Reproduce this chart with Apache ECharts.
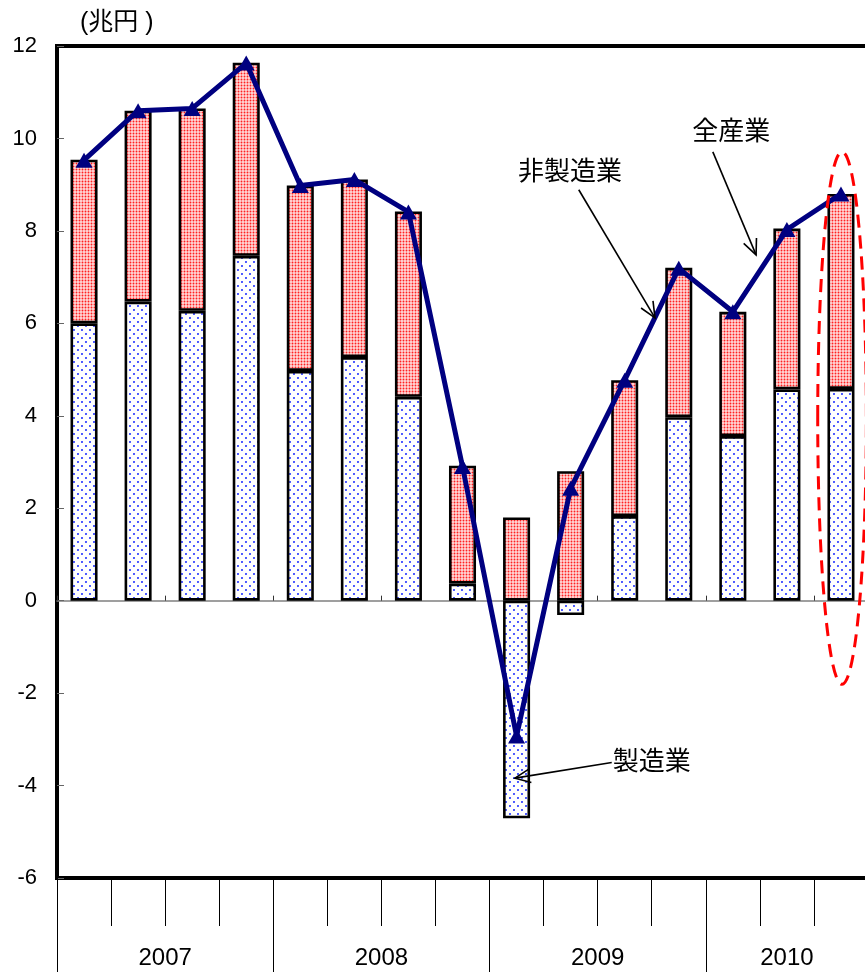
<!DOCTYPE html>
<html>
<head>
<meta charset="utf-8">
<script src="https://cdn.jsdelivr.net/npm/echarts@6/dist/echarts.min.js"></script>
<style>
  html, body { margin: 0; padding: 0; background: #fff; }
  #chart { width: 865px; height: 972px; }
</style>
</head>
<body>
<div id="chart"></div>
<script>
// Quarterly figures, 2007 Q1 – 2010 Q3 (兆円)
const quarters = ['2007Q1','2007Q2','2007Q3','2007Q4','2008Q1','2008Q2','2008Q3','2008Q4',
                  '2009Q1','2009Q2','2009Q3','2009Q4','2010Q1','2010Q2','2010Q3'];
const manufacturing    = [6.0, 6.47, 6.27, 7.46, 4.97, 5.27, 4.41, 0.37, -4.71, -0.31, 1.83, 3.97, 3.56, 4.57, 4.58];
const nonManufacturing = [3.54, 4.13, 4.38, 4.18, 4.01, 3.84, 4.01, 2.55, 1.8, 2.8, 2.94, 3.23, 2.69, 3.48, 4.22];
const allIndustries    = [9.53, 10.6, 10.65, 11.63, 8.98, 9.11, 8.41, 2.9, -2.93, 2.43, 4.77, 7.19, 6.25, 8.03, 8.8];

// Year labels sit at the centre of each year's span on a 0–15 quarter scale
const yearLabels = { 2: '2007', 6: '2008', 10: '2009', 13.5: '2010' };
const yTicks = { min: -6, max: 12, step: 2 };

const FONT = '"Liberation Sans", Arial, "Noto Sans CJK JP", sans-serif';

function makePattern(size, bg, fg, dots, r) {
  const c = document.createElement('canvas');
  c.width = size; c.height = size;
  const g = c.getContext('2d');
  g.fillStyle = bg;
  g.fillRect(0, 0, size, size);
  g.fillStyle = fg;
  dots.forEach(([x, y]) => { g.beginPath(); g.arc(x, y, r, 0, Math.PI * 2); g.fill(); });
  return c;
}
const bluePattern = makePattern(8, '#ffffff', '#2233ff', [[2, 2], [6, 6]], 1.05);
const redPattern  = makePattern(3, '#ffdada', '#ff2020', [[1.5, 1.5]], 0.95);

const chart = echarts.init(document.getElementById('chart'), null, { renderer: 'canvas' });

const barStyle = (img) => ({
  color: { image: img, repeat: 'repeat' },
  borderColor: '#000',
  borderWidth: 2.6
});

const option = {
  animation: false,
  backgroundColor: '#fff',
  title: {
    text: '(兆円 )',
    left: 75, top: 6,
    textStyle: { fontFamily: FONT, fontSize: 25, fontWeight: 'normal', color: '#000' }
  },
  grid: {
    left: 57, top: 46, width: 811, height: 832,
    outerBoundsMode: 'none', containLabel: false,
    show: true, borderColor: '#000', borderWidth: 4, backgroundColor: '#fff'
  },
  xAxis: [
    { // zero line with short upward ticks at quarter boundaries
      type: 'category', data: quarters, position: 'bottom',
      axisLine: { show: true, onZero: true, lineStyle: { color: '#808080', width: 1.5 } },
      axisTick: { show: true, inside: true, length: 5, lineStyle: { color: '#333', width: 1 } },
      axisLabel: { show: false }, splitLine: { show: false }
    },
    { // quarter separators below the frame
      type: 'value', min: 0, max: 15, interval: 1, position: 'bottom',
      axisLine: { show: false },
      axisTick: { show: true, length: 48, lineStyle: { color: '#000', width: 1 } },
      axisLabel: { show: false }, splitLine: { show: false }
    },
    { // year separators
      type: 'value', min: 0, max: 15, interval: 4, position: 'bottom',
      axisLine: { show: false },
      axisTick: { show: true, length: 96, lineStyle: { color: '#000', width: 1 } },
      axisLabel: { show: false }, splitLine: { show: false }
    },
    { // year names
      type: 'value', min: 0, max: 15, interval: 0.5, position: 'bottom',
      axisLine: { show: false }, axisTick: { show: false }, splitLine: { show: false },
      axisLabel: {
        show: true, margin: 68, fontFamily: FONT, fontSize: 24, color: '#000',
        formatter: (v) => yearLabels[v] || ''
      }
    }
  ],
  yAxis: {
    type: 'value', min: yTicks.min, max: yTicks.max, interval: yTicks.step,
    axisLine: { show: false },
    axisTick: { show: true, inside: true, length: 7, lineStyle: { color: '#666', width: 1 } },
    axisLabel: { fontFamily: FONT, fontSize: 22, color: '#000', margin: 20 },
    splitLine: { show: false }
  },
  series: [
    {
      name: '製造業', type: 'bar', stack: 'total', barWidth: '50%',
      data: manufacturing, itemStyle: barStyle(bluePattern), z: 2
    },
    {
      name: '非製造業', type: 'bar', stack: 'total', barWidth: '50%',
      data: nonManufacturing, itemStyle: barStyle(redPattern), z: 2
    },
    {
      name: '全産業', type: 'line', data: allIndustries, z: 5,
      lineStyle: { color: '#000080', width: 5 },
      itemStyle: { color: '#000080' },
      symbol: 'triangle', symbolSize: [17, 15], showSymbol: true
    }
  ]
};
chart.setOption(option);

// Callouts are placed on the quarter scale (xAxis 1) and the value axis
const px = (q, v) => chart.convertToPixel({ xAxisIndex: 1, yAxisIndex: 0 }, [q, v]);

function arrow(from, to) {
  const a = px(from[0], from[1]);
  const b = px(to[0], to[1]);
  const ang = Math.atan2(b[1] - a[1], b[0] - a[0]);
  const L = 17, spread = 0.42;
  const p1 = [b[0] - L * Math.cos(ang - spread), b[1] - L * Math.sin(ang - spread)];
  const p2 = [b[0] - L * Math.cos(ang + spread), b[1] - L * Math.sin(ang + spread)];
  return [
    { type: 'line', shape: { x1: a[0], y1: a[1], x2: b[0], y2: b[1] },
      style: { stroke: '#000', lineWidth: 1.6 }, z: 10 },
    { type: 'polyline', shape: { points: [p1, b, p2] },
      style: { stroke: '#000', lineWidth: 1.6, fill: null }, z: 10 }
  ];
}

function label(text, q, v) {
  const p = px(q, v);
  return { type: 'text', x: p[0], y: p[1], z: 10,
    style: { text, font: '26px "Noto Sans CJK JP", sans-serif', fill: '#000',
             align: 'center', verticalAlign: 'middle' } };
}

const ellC = px(14.52, 3.95);
const ellTop = px(14.52, 3.95 + 5.76);
const ellSide = px(14.52 + 0.45, 3.95);

chart.setOption({
  graphic: [
    label('全産業', 12.47, 10.17),
    ...arrow([12.13, 9.71], [12.93, 7.48]),
    label('非製造業', 9.49, 9.32),
    ...arrow([9.65, 8.89], [11.06, 6.12]),
    label('製造業', 11.0, -3.45),
    ...arrow([10.26, -3.5], [8.47, -3.84]),
    { type: 'ellipse', z: 11,
      shape: { cx: ellC[0], cy: ellC[1], rx: ellSide[0] - ellC[0], ry: ellC[1] - ellTop[1] },
      style: { fill: null, stroke: '#ff0000', lineWidth: 3, lineDash: [13, 8] } }
  ]
});
</script>
</body>
</html>
